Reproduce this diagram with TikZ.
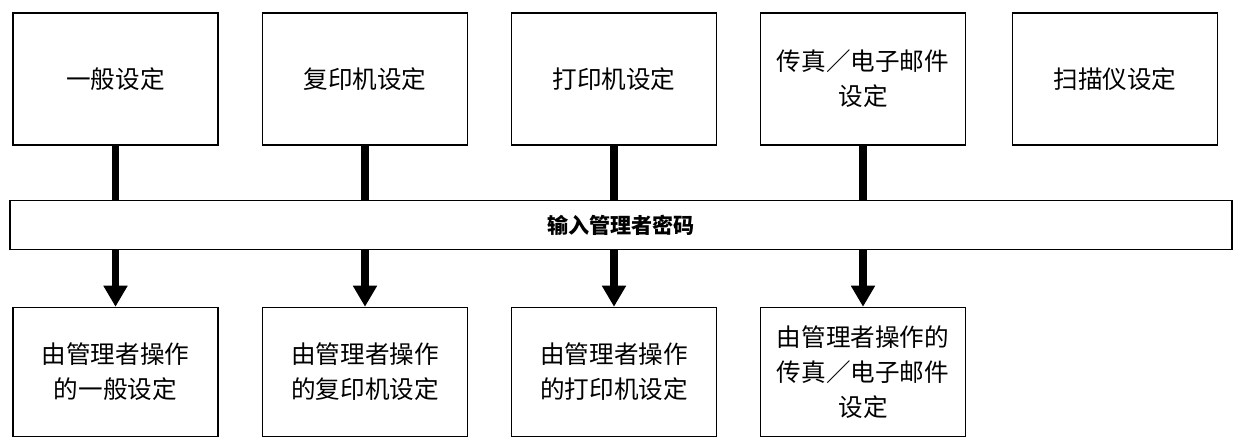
\documentclass[tikz,border=0pt]{standalone}
\usepackage{fontspec}
\newfontfamily\cjk{Noto Sans CJK SC}
\usetikzlibrary{arrows.meta,positioning}

\begin{document}
\begin{tikzpicture}[
    box/.style={rectangle, draw, line width=0.8pt, minimum width=4.1cm, minimum height=2.64cm, align=center, font=\cjk\fontsize{14}{20}\selectfont},
    bar/.style={line width=4.5pt},
    arrow/.style={-{Triangle[length=12pt, width=13pt]}, line width=4.5pt}
]
\useasboundingbox (0,0) rectangle (24.8,8.8);

% Settings
\node[box] (gen) at (2.31,7.22) {一般设定};
\node[box] (copy) at (7.3,7.22) {复印机设定};
\node[box] (print) at (12.28,7.22) {打印机设定};
\node[box] (fax) at (17.26,7.22) {传真／电子邮件\\设定};
\node[box] (scan) at (22.3,7.22) {扫描仪设定};

% Password
\node[rectangle, draw, line width=0.8pt, minimum width=24.44cm, minimum height=0.98cm, font=\cjk\bfseries\fontsize{12}{14}\selectfont] (pass) at (12.42,4.3) {输入管理者密码};

% Admin settings
\node[box, minimum height=2.58cm] (agen) at (2.31,1.36) {由管理者操作\\的一般设定};
\node[box, minimum height=2.58cm] (acopy) at (7.3,1.36) {由管理者操作\\的复印机设定};
\node[box, minimum height=2.58cm] (aprint) at (12.28,1.36) {由管理者操作\\的打印机设定};
\node[box, minimum height=2.58cm] (afax) at (17.26,1.36) {由管理者操作的\\传真／电子邮件\\设定};

\foreach \t/\b in {gen/agen, copy/acopy, print/aprint, fax/afax} {
    \draw[bar] (\t.south) -- (pass.north -| \t);
    \draw[arrow] (pass.south -| \b) -- (\b.north);
}

\end{tikzpicture}
\end{document}
